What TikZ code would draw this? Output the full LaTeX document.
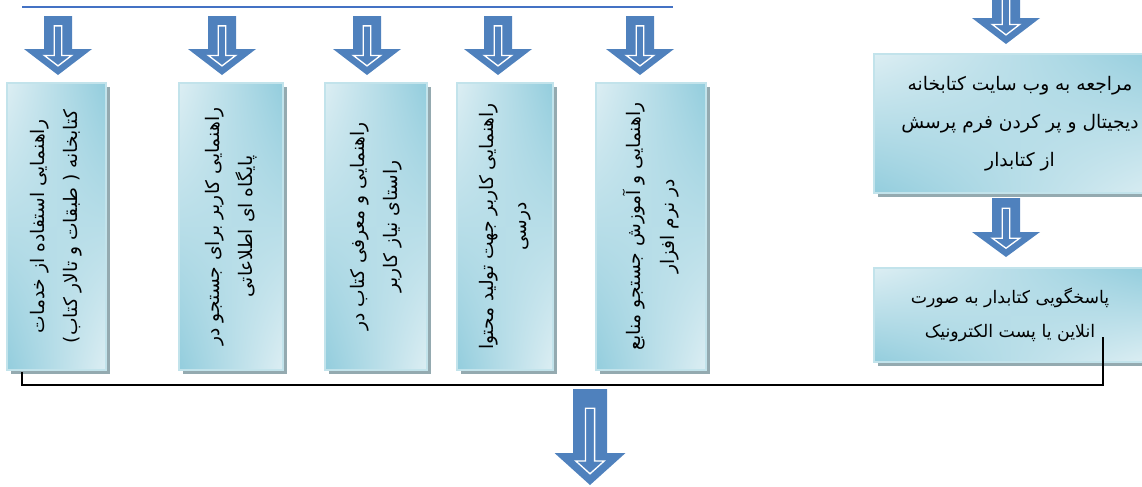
\documentclass[tikz,border=0pt]{standalone}
\usepackage{fontspec}
\newfontfamily\farsifont[Script=Arabic]{DejaVu Sans}
\TeXXeTstate=1
\usetikzlibrary{shadows,shadings}
\definecolor{arrowblue}{HTML}{4F81BD}
\definecolor{lineblue}{HTML}{4472C4}
\definecolor{boxlight}{HTML}{DCEEF3}
\definecolor{boxdark}{HTML}{93CDDD}
\definecolor{boxedge}{HTML}{C2E3EB}
\definecolor{shadowgray}{HTML}{94AAB0}
\newcommand\rtlline[1]{\beginR #1\endR}
\tikzset{
  panel/.style={rectangle, draw=boxedge, line width=1pt, inner sep=0pt,
    upper left=boxlight, upper right=boxdark, lower left=boxdark, lower right=boxlight,
    drop shadow={shadow xshift=3pt, shadow yshift=-3pt, fill=shadowgray, opacity=1}},
  vtext/.style={rotate=90, align=center, inner sep=0pt,
    font=\farsifont\fontsize{14}{25}\selectfont},
}
\begin{document}
\begin{tikzpicture}[x=0.75pt,y=-0.75pt]
\useasboundingbox (0,0) rectangle (1142,486);
\clip (0,0) rectangle (1142,486);
% top bar
\coordinate (tl) at (22,7);
\coordinate (tr) at (673,7);
\draw[lineblue, line width=1.6pt] (tl) -- (tr);
% block arrows
\foreach \x/\t/\b/\p/\s/\h in {58/16/49/75/14/34, 222/16/49/75/14/34, 367/16/49/75/14/34,
    498/16/49/75/14/34, 640/16/49/75/14/34, 1006/-12/18/44/14/34,
    1006/198/232/257/14/34, 590/389/453/485/17/35.5}
{
  \fill[arrowblue] (\x-\s,\t) -- (\x+\s,\t) -- (\x+\s,\b) -- (\x+\h,\b) -- (\x,\p)
    -- (\x-\h,\b) -- (\x-\s,\b) -- cycle;
  \draw[white, line width=1pt, line join=miter]
    ({\x-0.27*\s},{\t+0.3*(\b-\t)}) -- ({\x+0.27*\s},{\t+0.3*(\b-\t)})
    -- ({\x+0.27*\s},{\b+0.25*(\p-\b)}) -- ({\x+0.4*\h},{\b+0.25*(\p-\b)})
    -- (\x,{\p-0.35*(\p-\b)}) -- ({\x-0.4*\h},{\b+0.25*(\p-\b)})
    -- ({\x-0.27*\s},{\b+0.25*(\p-\b)}) -- cycle;
}
% vertical panels
\node[panel, minimum width=99*.75pt, minimum height=287*.75pt] (b1) at (56.5,226.5) {};
\node[panel, minimum width=104*.75pt, minimum height=287*.75pt] (b2) at (231,226.5) {};
\node[panel, minimum width=102*.75pt, minimum height=287*.75pt] (b3) at (376,226.5) {};
\node[panel, minimum width=96*.75pt, minimum height=287*.75pt] (b4) at (505,226.5) {};
\node[panel, minimum width=110*.75pt, minimum height=287*.75pt] (b5) at (651,226.5) {};
\node[vtext] (t1) at (b1) {\rtlline{راهنمایی استفاده از خدمات}\\\rtlline{کتابخانه ( طبقات و تالار کتاب)}};
\node[vtext] (t2) at (b2) {\rtlline{راهنمایی کاربر برای جستجو در}\\\rtlline{پایگاه ای اطلاعاتی}};
\node[vtext] (t3) at (b3) {\rtlline{راهنمایی و معرفی کتاب در}\\\rtlline{راستای نیاز کاربر}};
\node[vtext] (t4) at (b4) {\rtlline{راهنمایی کاربر جهت تولید محتوا}\\\rtlline{درسی}};
\node[vtext] (t5) at (b5) {\rtlline{راهنمایی و آموزش جستجو منابع}\\\rtlline{در نرم افزار}};
% right column
\node[panel, align=center, font=\farsifont\fontsize{14}{28.5}\selectfont,
  minimum width=292*.75pt, minimum height=139*.75pt] (b6) at (1020,123.5)
  {\rtlline{مراجعه به وب سایت کتابخانه}\\\rtlline{دیجیتال  و پر کردن فرم پرسش}\\\rtlline{از کتابدار}};
\node[panel, align=center, font=\farsifont\fontsize{13}{25.5}\selectfont,
  minimum width=272*.75pt, minimum height=94*.75pt] (b7) at (1010,315)
  {\rtlline{پاسخگویی کتابدار به صورت}\\\rtlline{انلاین یا پست الکترونیک}};
% collecting line
\coordinate (c7) at (1103,337);
\coordinate (cb) at (590,385);
\coordinate (c1) at (22,372);
\draw[line width=1.5pt] (c7) |- (cb) -| (c1);
\end{tikzpicture}
\end{document}
